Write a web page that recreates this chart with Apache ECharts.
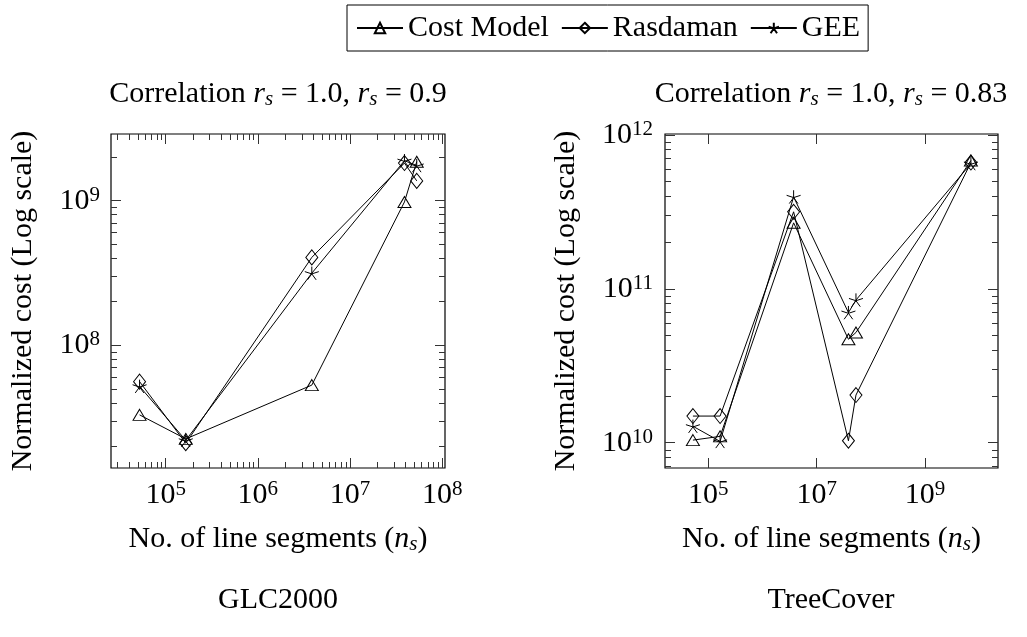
<!DOCTYPE html>
<html>
<head>
<meta charset="utf-8">
<title>Cost model vs. Rasdaman and GEE</title>
<script src="https://cdn.jsdelivr.net/npm/echarts@6/dist/echarts.min.js"></script>
<style>
  html, body { margin: 0; padding: 0; background: #fff; }
  #chart { width: 1027px; height: 637px; }
</style>
</head>
<body>
<div id="chart"></div>
<script>
// Number of line segments of each vector dataset (x values)
const segmentsGlc  = [5.2e4, 1.65e5, 3.85e6, 3.9e7, 5.3e7];
const segmentsTree = [5.2e4, 1.65e5, 3.75e6, 3.85e7, 5.3e7, 7.0e9];

// Normalized cost, GLC2000 raster
const costGlc = [3.3e7, 2.25e7, 5.3e7, 9.8e8, 1.86e9];
const rasGlc  = [5.6e7, 2.1e7, 4.05e8, 1.82e9, 1.37e9];
const geeGlc  = [5.2e7, 2.2e7, 3.15e8, 1.89e9, 1.75e9];

// Normalized cost, TreeCover raster
const costTree = [1.04e10, 1.1e10, 2.68e11, 4.7e10, 5.2e10, 6.8e11];
const rasTree  = [1.49e10, 1.49e10, 3.16e11, 1.03e10, 2.04e10, 6.6e11];
const geeTree  = [1.28e10, 1.02e10, 3.95e11, 7.0e10, 8.45e10, 6.5e11];

const seriesNames = ['Cost Model', 'Rasdaman', 'GEE'];
const panelTitles = [
  'Correlation {i|r}{s|s} = 1.0, {i|r}{s|s} = 0.9',
  'Correlation {i|r}{s|s} = 1.0, {i|r}{s|s} = 0.83'
];
const panelNames = ['GLC2000', 'TreeCover'];
const xAxisTitle = 'No. of line segments ({i|n}{s|s})';
const yAxisTitle = 'Normalized cost (Log scale)';

// Major tick values (labelled as powers of ten)
const xTicksGlc  = [1e5, 1e6, 1e7, 1e8];
const yTicksGlc  = [1e8, 1e9];
const xTicksTree = [1e5, 1e7, 1e9];
const yTicksTree = [1e10, 1e11, 1e12];

const FONT = 'Liberation Serif';
const BASE = 30;
const rich = {
  b: { fontFamily: FONT, fontSize: BASE, fontWeight: 'normal', lineHeight: 32, color: '#000' },
  p: { fontFamily: FONT, fontSize: 21, fontWeight: 'normal', lineHeight: 24, verticalAlign: 'top', color: '#000' },
  i: { fontFamily: FONT, fontSize: BASE, fontWeight: 'normal', fontStyle: 'italic', lineHeight: 32, color: '#000' },
  s: { fontFamily: FONT, fontSize: 21, fontWeight: 'normal', fontStyle: 'italic', lineHeight: 17, verticalAlign: 'bottom', color: '#000' }
};
const textBase = { fontFamily: FONT, fontSize: BASE, fontWeight: 'normal', lineHeight: 32, color: '#000', rich: rich };

const powerLabel = v => '{b|10}{p|' + Math.round(Math.log10(v)) + '}';

// log-axis minor ticks at 2..9 x 10^d inside [lo, hi]
function minorTicks(lo, hi) {
  const out = [];
  for (let d = Math.floor(Math.log10(lo)); d <= Math.ceil(Math.log10(hi)); d++) {
    for (let k = 2; k <= 9; k++) {
      const v = k * Math.pow(10, d);
      if (v >= lo && v <= hi) out.push(v);
    }
  }
  return out;
}

const tickLine = { color: '#333', width: 1 };

function axis(gridIndex, position, range, ticks, len, label) {
  const a = {
    type: 'log',
    logBase: 10,
    gridIndex: gridIndex,
    position: position,
    min: range[0],
    max: range[1],
    axisLine: { show: false },
    splitLine: { show: false },
    axisTick: { show: true, inside: true, length: len, customValues: ticks, lineStyle: tickLine },
    axisLabel: { show: false }
  };
  if (label) {
    a.axisLabel = Object.assign({
      show: true,
      customValues: ticks,
      formatter: powerLabel,
      rich: rich,
      fontFamily: FONT,
      color: '#000'
    }, label.axisLabel);
    Object.assign(a, label.name);
  }
  return a;
}

const xAxes = [];
const yAxes = [];

function buildPanel(g, xRange, yRange, xTicks, yTicks, xMinor, yLabelMargin, yNameGap) {
  const xi = xAxes.length, yi = yAxes.length;
  xAxes.push(axis(g, 'bottom', xRange, xTicks, 10, {
    axisLabel: { margin: 11 },
    name: {
      name: xAxisTitle, nameLocation: 'middle', nameGap: 55,
      nameTextStyle: Object.assign({}, textBase)
    }
  }));
  xAxes.push(axis(g, 'top', xRange, xTicks, 10));
  if (xMinor) {
    const m = minorTicks(xRange[0], xRange[1]);
    xAxes.push(axis(g, 'bottom', xRange, m, 6));
    xAxes.push(axis(g, 'top', xRange, m, 6));
  }
  yAxes.push(axis(g, 'left', yRange, yTicks, 10, {
    axisLabel: { margin: yLabelMargin },
    name: {
      name: yAxisTitle, nameLocation: 'middle', nameGap: yNameGap, nameRotate: 90,
      nameTextStyle: Object.assign({}, textBase)
    }
  }));
  yAxes.push(axis(g, 'right', yRange, yTicks, 10));
  const my = minorTicks(yRange[0], yRange[1]);
  yAxes.push(axis(g, 'left', yRange, my, 6));
  yAxes.push(axis(g, 'right', yRange, my, 6));
  return { xi: xi, yi: yi };
}

const pGlc  = buildPanel(0, [Math.pow(10, 4.406), Math.pow(10, 8.031)], [Math.pow(10, 7.151), Math.pow(10, 9.461)],
                         xTicksGlc, yTicksGlc, true, 11, 72);
const pTree = buildPanel(1, [Math.pow(10, 4.201), Math.pow(10, 10.345)], [Math.pow(10, 9.836), Math.pow(10, 12.005)],
                         xTicksTree, yTicksTree, false, 12, 83);

const starPath = 'path://M0,-1L0,0M0.951,-0.309L0,0M0.588,0.809L0,0M-0.588,0.809L0,0M-0.951,-0.309L0,0';
const markers = {
  'Cost Model': { symbol: 'triangle', size: [13, 11] },
  'Rasdaman':   { symbol: 'diamond', size: [12, 15] },
  'GEE':        { symbol: starPath, size: [14, 14] }
};

function lineSeries(name, xs, ys, p) {
  return {
    name: name,
    type: 'line',
    xAxisIndex: p.xi,
    yAxisIndex: p.yi,
    data: xs.map((x, k) => [x, ys[k]]),
    symbol: markers[name].symbol,
    symbolSize: markers[name].size,
    symbolKeepAspect: true,
    showAllSymbol: true,
    lineStyle: { color: '#000', width: 1 },
    itemStyle: { color: 'rgba(0,0,0,0)', borderColor: '#000', borderWidth: 1 },
    emphasis: { disabled: true },
    silent: true,
    clip: false
  };
}

const series = [
  lineSeries('Cost Model', segmentsGlc, costGlc, pGlc),
  lineSeries('Rasdaman', segmentsGlc, rasGlc, pGlc),
  lineSeries('GEE', segmentsGlc, geeGlc, pGlc),
  lineSeries('Cost Model', segmentsTree, costTree, pTree),
  lineSeries('Rasdaman', segmentsTree, rasTree, pTree),
  lineSeries('GEE', segmentsTree, geeTree, pTree)
];

const gridBox = { show: true, borderColor: '#000', borderWidth: 1.2, backgroundColor: 'rgba(0,0,0,0)', containLabel: false };

const option = {
  animation: false,
  backgroundColor: '#fff',
  title: [
    { text: panelTitles[0], left: 278, top: 78, textAlign: 'center', padding: 0, textStyle: textBase },
    { text: panelTitles[1], left: 831, top: 78, textAlign: 'center', padding: 0, textStyle: textBase },
    { text: panelNames[0], left: 278, top: 584, textAlign: 'center', padding: 0, textStyle: textBase },
    { text: panelNames[1], left: 831, top: 584, textAlign: 'center', padding: 0, textStyle: textBase }
  ],
  legend: {
    data: seriesNames,
    left: 347,
    top: 5,
    orient: 'horizontal',
    itemWidth: 46,
    itemHeight: 13,
    itemGap: 12,
    padding: [8, 8, 8, 9],
    borderColor: '#000',
    borderWidth: 1,
    selectedMode: false,
    textStyle: { fontFamily: FONT, fontSize: BASE, color: '#000', lineHeight: 30 }
  },
  grid: [
    Object.assign({ left: 111, top: 134, width: 334, height: 334 }, gridBox),
    Object.assign({ left: 665, top: 134, width: 333, height: 334 }, gridBox)
  ],
  xAxis: xAxes,
  yAxis: yAxes,
  series: series
};

const chart = echarts.init(document.getElementById('chart'));
chart.setOption(option);
</script>
</body>
</html>
